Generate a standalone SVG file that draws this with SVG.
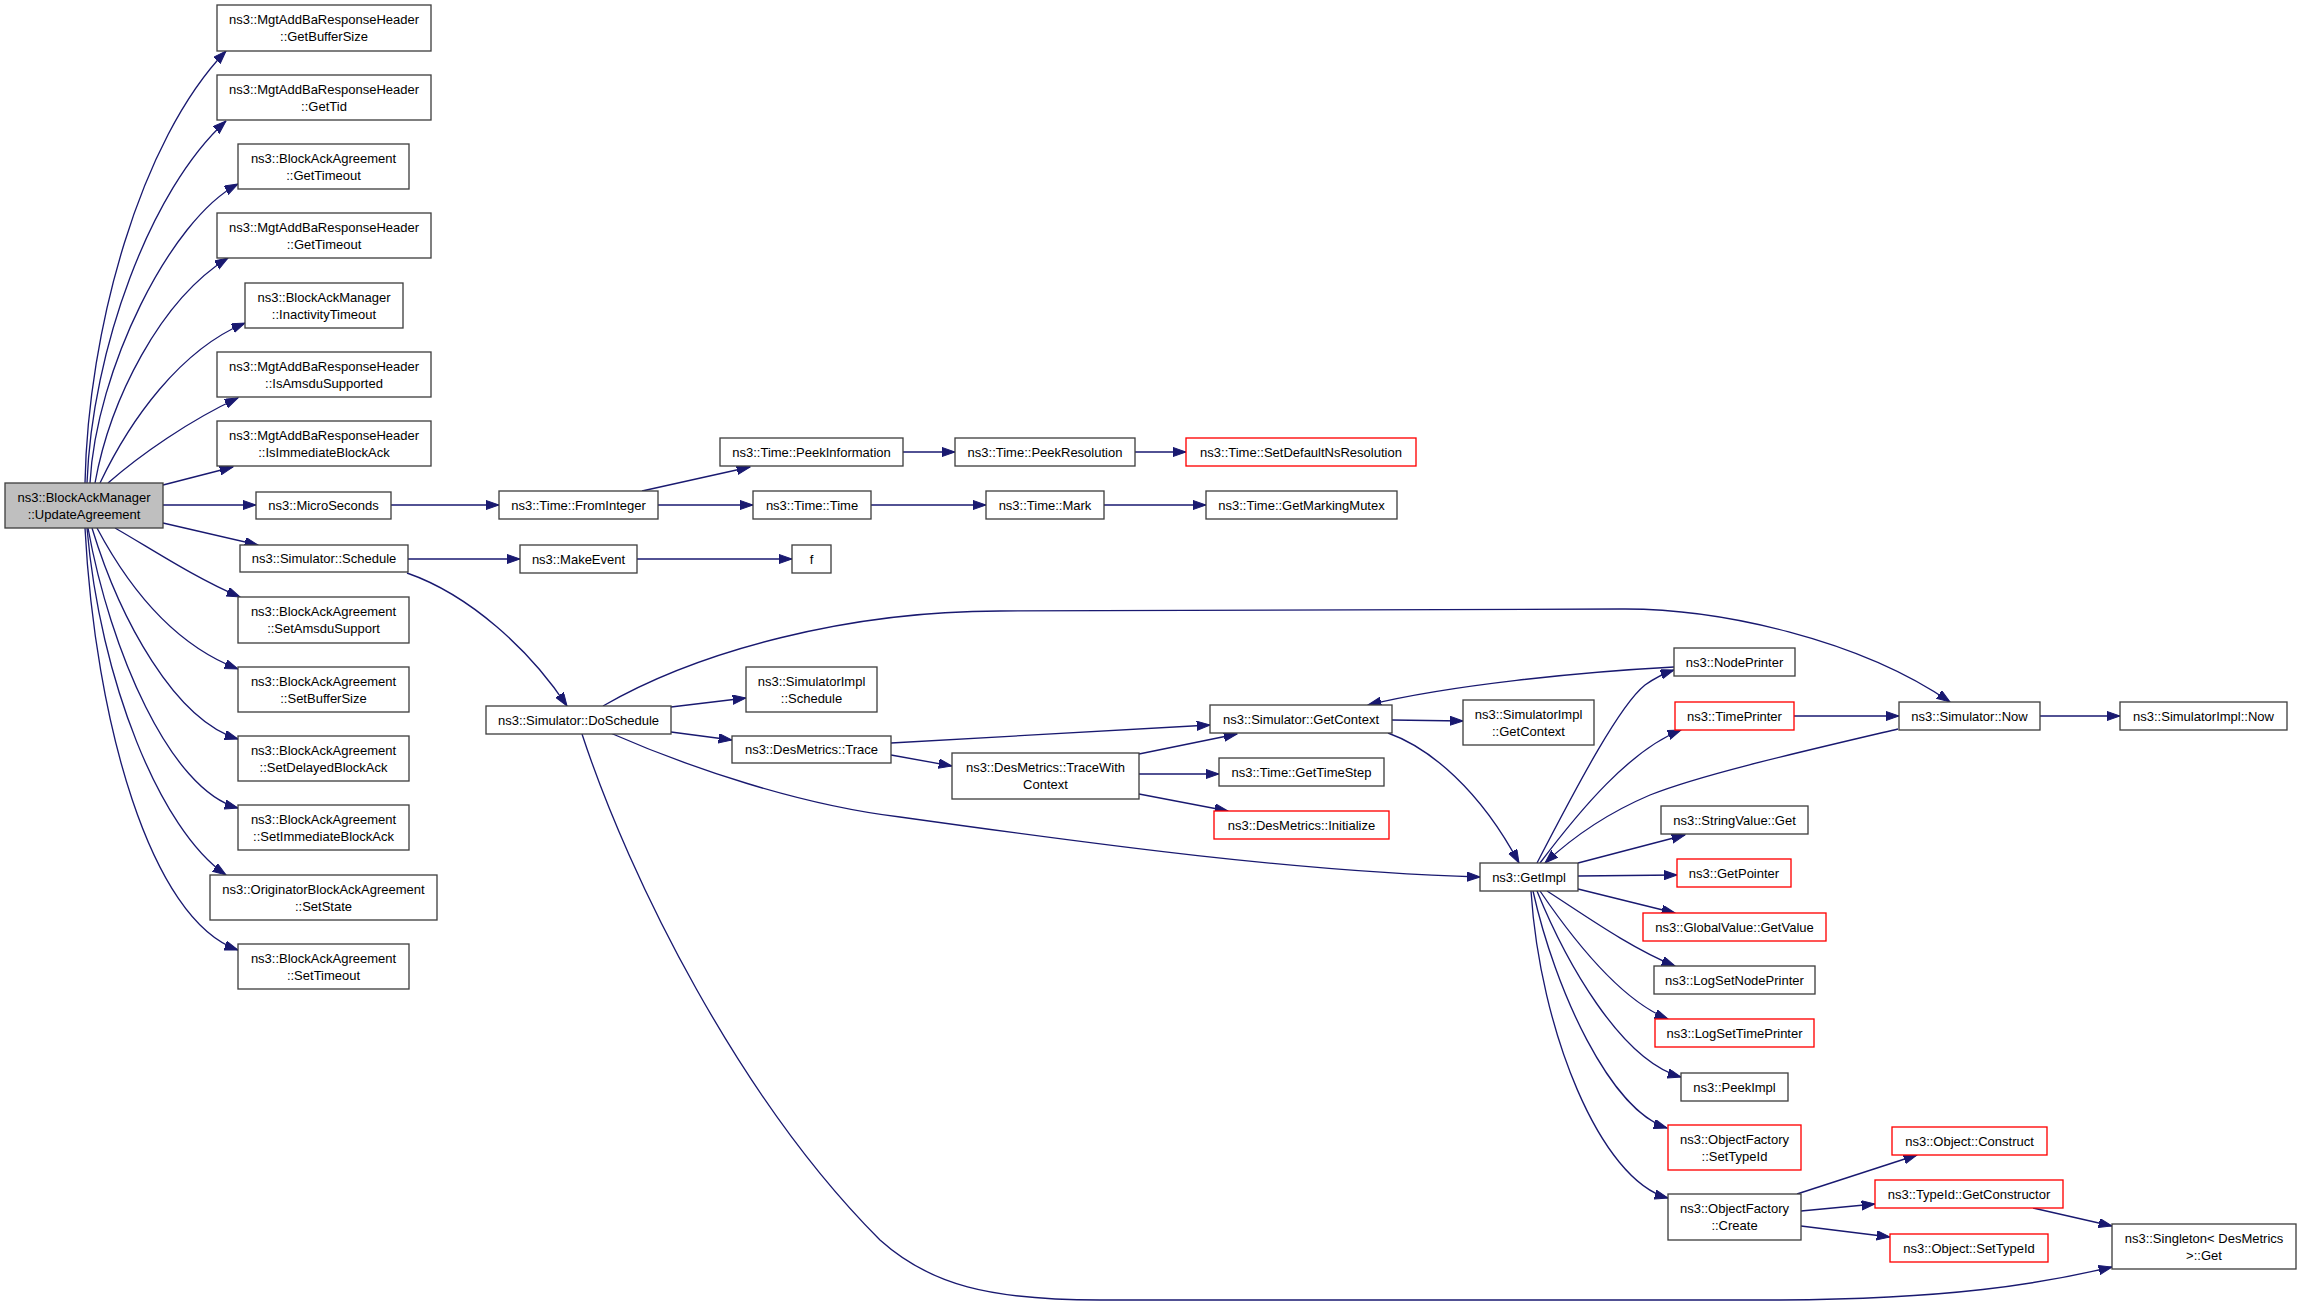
<svg xmlns="http://www.w3.org/2000/svg" width="2301" height="1305" viewBox="0 0 2301 1305">
<style>
.node rect{fill:#ffffff;stroke:#404040;stroke-width:1.33}
.node.red rect{stroke:#ff0000}
.node.main rect{fill:#bfbfbf}
.node text{font-family:"Liberation Sans",Arial,sans-serif;font-size:13px;text-anchor:middle;fill:#000000}
.edges path{fill:none;stroke:#191970;stroke-width:1.33;marker-end:url(#arr)}
</style>
<defs>
<marker id="arr" markerUnits="userSpaceOnUse" markerWidth="14" markerHeight="10" refX="13.3" refY="4.65" orient="auto">
<path d="M0,0 L13.3,4.65 L0,9.3 z" fill="#191970" stroke="#191970" stroke-width="1"/>
</marker>
</defs>
<rect x="0" y="0" width="2301" height="1305" fill="#ffffff"/>
<g class="edges" id="edges">
<path d="M85,483 C88,330 140,140 226,51"/>
<path d="M87,483 C92,350 150,190 226,121"/>
<path d="M90,483 C96,370 170,220 238,184"/>
<path d="M95,483 C110,400 160,300 228,258"/>
<path d="M100,483 C130,420 180,350 245,323"/>
<path d="M108,483 C140,455 190,420 238,398"/>
<path d="M163,485 L233,467"/>
<path d="M163,505 L256,505"/>
<path d="M163,523 L258,545"/>
<path d="M115,528 C150,548 195,578 240,597"/>
<path d="M97,528 C130,590 175,645 238,669"/>
<path d="M92,528 C120,620 175,720 238,739"/>
<path d="M88,528 C110,650 170,790 238,808"/>
<path d="M87,528 C100,680 160,830 226,875"/>
<path d="M85,528 C95,720 150,920 238,950"/>
<path d="M391,505 L499,505"/>
<path d="M408,559 L520,559"/>
<path d="M407,573 C470,595 530,650 567,706"/>
<path d="M642,491 L750,467"/>
<path d="M658,505 L753,505"/>
<path d="M637,559 L792,559"/>
<path d="M671,707 L746,698"/>
<path d="M671,732 L732,740"/>
<path d="M603,706 C700,650 850,611 1000,611 L1620,609 C1720,608 1860,640 1950,702"/>
<path d="M903,452 L955,452"/>
<path d="M871,505 L986,505"/>
<path d="M891,755 L952,766"/>
<path d="M891,743 L1210,725"/>
<path d="M608,732 C690,768 800,805 900,817 C1100,845 1300,872 1480,877"/>
<path d="M582,734 C630,880 740,1100 880,1240 C930,1285 990,1300 1100,1300 L1780,1300 C1950,1299 2040,1284 2112,1267"/>
<path d="M1135,452 L1186,452"/>
<path d="M1104,505 L1206,505"/>
<path d="M1139,754 L1237,734"/>
<path d="M1139,774 L1219,774"/>
<path d="M1139,794 L1228,811"/>
<path d="M1392,720 L1463,721"/>
<path d="M1388,733 C1430,748 1480,790 1519,863"/>
<path d="M1674,667 C1580,672 1450,685 1368,705"/>
<path d="M1537,863 C1580,780 1620,705 1645,685 C1655,678 1665,673 1674,670"/>
<path d="M1540,863 C1580,810 1630,750 1681,730"/>
<path d="M1898,729 C1800,752 1700,775 1650,795 C1610,812 1575,835 1545,863"/>
<path d="M1794,716 L1899,716"/>
<path d="M1578,863 L1685,835"/>
<path d="M1578,876 L1677,875"/>
<path d="M1578,889 L1675,913"/>
<path d="M1547,891 C1580,912 1630,948 1675,966"/>
<path d="M1540,891 C1570,935 1620,1000 1668,1019"/>
<path d="M1537,891 C1565,960 1620,1060 1681,1077"/>
<path d="M1533,891 C1555,990 1610,1110 1667,1128"/>
<path d="M1531,891 C1540,1030 1600,1180 1668,1198"/>
<path d="M1797,1194 L1917,1155"/>
<path d="M1801,1211 L1875,1204"/>
<path d="M1801,1226 L1890,1237"/>
<path d="M2033,1208 L2112,1226"/>
<path d="M2040,716 L2120,716"/>
</g>
<g id="n_main" class="node main"><rect x="5" y="483" width="158" height="45"/><text x="84" y="501.5">ns3::BlockAckManager</text><text x="84" y="518.5">::UpdateAgreement</text></g>
<g id="n_getbuffersize" class="node"><rect x="217" y="5" width="214" height="46"/><text x="324" y="23.5">ns3::MgtAddBaResponseHeader</text><text x="324" y="40.5">::GetBufferSize</text></g>
<g id="n_gettid" class="node"><rect x="217" y="75" width="214" height="45"/><text x="324" y="93.5">ns3::MgtAddBaResponseHeader</text><text x="324" y="110.5">::GetTid</text></g>
<g id="n_baa_gettimeout" class="node"><rect x="238" y="144" width="171" height="45"/><text x="323.5" y="162.5">ns3::BlockAckAgreement</text><text x="323.5" y="179.5">::GetTimeout</text></g>
<g id="n_mabr_gettimeout" class="node"><rect x="217" y="213" width="214" height="45"/><text x="324" y="231.5">ns3::MgtAddBaResponseHeader</text><text x="324" y="248.5">::GetTimeout</text></g>
<g id="n_inactivity" class="node"><rect x="245" y="283" width="158" height="45"/><text x="324" y="301.5">ns3::BlockAckManager</text><text x="324" y="318.5">::InactivityTimeout</text></g>
<g id="n_isamsdu" class="node"><rect x="217" y="352" width="214" height="45"/><text x="324" y="370.5">ns3::MgtAddBaResponseHeader</text><text x="324" y="387.5">::IsAmsduSupported</text></g>
<g id="n_isimmediate" class="node"><rect x="217" y="421" width="214" height="45"/><text x="324" y="439.5">ns3::MgtAddBaResponseHeader</text><text x="324" y="456.5">::IsImmediateBlockAck</text></g>
<g id="n_microseconds" class="node"><rect x="256" y="492" width="135" height="27"/><text x="323.5" y="510">ns3::MicroSeconds</text></g>
<g id="n_schedule" class="node"><rect x="240" y="545" width="168" height="27"/><text x="324" y="563">ns3::Simulator::Schedule</text></g>
<g id="n_setamsdu" class="node"><rect x="238" y="597" width="171" height="46"/><text x="323.5" y="615.5">ns3::BlockAckAgreement</text><text x="323.5" y="632.5">::SetAmsduSupport</text></g>
<g id="n_setbuffersize" class="node"><rect x="238" y="667" width="171" height="45"/><text x="323.5" y="685.5">ns3::BlockAckAgreement</text><text x="323.5" y="702.5">::SetBufferSize</text></g>
<g id="n_setdelayed" class="node"><rect x="238" y="736" width="171" height="45"/><text x="323.5" y="754.5">ns3::BlockAckAgreement</text><text x="323.5" y="771.5">::SetDelayedBlockAck</text></g>
<g id="n_setimmediate" class="node"><rect x="238" y="805" width="171" height="45"/><text x="323.5" y="823.5">ns3::BlockAckAgreement</text><text x="323.5" y="840.5">::SetImmediateBlockAck</text></g>
<g id="n_setstate" class="node"><rect x="210" y="875" width="227" height="45"/><text x="323.5" y="893.5">ns3::OriginatorBlockAckAgreement</text><text x="323.5" y="910.5">::SetState</text></g>
<g id="n_settimeout" class="node"><rect x="238" y="944" width="171" height="45"/><text x="323.5" y="962.5">ns3::BlockAckAgreement</text><text x="323.5" y="979.5">::SetTimeout</text></g>
<g id="n_frominteger" class="node"><rect x="499" y="491" width="159" height="28"/><text x="578.5" y="509.5">ns3::Time::FromInteger</text></g>
<g id="n_makeevent" class="node"><rect x="520" y="545" width="117" height="28"/><text x="578.5" y="563.5">ns3::MakeEvent</text></g>
<g id="n_doschedule" class="node"><rect x="486" y="706" width="185" height="28"/><text x="578.5" y="724.5">ns3::Simulator::DoSchedule</text></g>
<g id="n_peekinformation" class="node"><rect x="720" y="438" width="183" height="28"/><text x="811.5" y="456.5">ns3::Time::PeekInformation</text></g>
<g id="n_timetime" class="node"><rect x="753" y="491" width="118" height="28"/><text x="812" y="509.5">ns3::Time::Time</text></g>
<g id="n_f" class="node"><rect x="792" y="545" width="39" height="28"/><text x="811.5" y="563.5">f</text></g>
<g id="n_simimpl_schedule" class="node"><rect x="746" y="667" width="131" height="45"/><text x="811.5" y="685.5">ns3::SimulatorImpl</text><text x="811.5" y="702.5">::Schedule</text></g>
<g id="n_trace" class="node"><rect x="732" y="736" width="159" height="27"/><text x="811.5" y="754">ns3::DesMetrics::Trace</text></g>
<g id="n_peekresolution" class="node"><rect x="955" y="438" width="180" height="28"/><text x="1045" y="456.5">ns3::Time::PeekResolution</text></g>
<g id="n_mark" class="node"><rect x="986" y="491" width="118" height="28"/><text x="1045" y="509.5">ns3::Time::Mark</text></g>
<g id="n_tracewithcontext" class="node"><rect x="952" y="753" width="187" height="46"/><text x="1045.5" y="771.5">ns3::DesMetrics::TraceWith</text><text x="1045.5" y="788.5">Context</text></g>
<g id="n_setdefaultns" class="node red"><rect x="1186" y="438" width="230" height="28"/><text x="1301" y="456.5">ns3::Time::SetDefaultNsResolution</text></g>
<g id="n_getmarkingmutex" class="node"><rect x="1206" y="491" width="191" height="28"/><text x="1301.5" y="509.5">ns3::Time::GetMarkingMutex</text></g>
<g id="n_getcontext" class="node"><rect x="1210" y="705" width="182" height="28"/><text x="1301" y="723.5">ns3::Simulator::GetContext</text></g>
<g id="n_gettimestep" class="node"><rect x="1219" y="758" width="165" height="28"/><text x="1301.5" y="776.5">ns3::Time::GetTimeStep</text></g>
<g id="n_initialize" class="node red"><rect x="1214" y="811" width="175" height="28"/><text x="1301.5" y="829.5">ns3::DesMetrics::Initialize</text></g>
<g id="n_simimpl_getcontext" class="node"><rect x="1463" y="700" width="131" height="45"/><text x="1528.5" y="718.5">ns3::SimulatorImpl</text><text x="1528.5" y="735.5">::GetContext</text></g>
<g id="n_getimpl" class="node"><rect x="1480" y="863" width="98" height="28"/><text x="1529" y="881.5">ns3::GetImpl</text></g>
<g id="n_nodeprinter" class="node"><rect x="1674" y="648" width="121" height="28"/><text x="1734.5" y="666.5">ns3::NodePrinter</text></g>
<g id="n_timeprinter" class="node red"><rect x="1675" y="702" width="119" height="28"/><text x="1734.5" y="720.5">ns3::TimePrinter</text></g>
<g id="n_stringvalue" class="node"><rect x="1661" y="806" width="147" height="28"/><text x="1734.5" y="824.5">ns3::StringValue::Get</text></g>
<g id="n_getpointer" class="node red"><rect x="1677" y="859" width="114" height="28"/><text x="1734" y="877.5">ns3::GetPointer</text></g>
<g id="n_globalvalue" class="node red"><rect x="1643" y="913" width="183" height="28"/><text x="1734.5" y="931.5">ns3::GlobalValue::GetValue</text></g>
<g id="n_logsetnodeprinter" class="node"><rect x="1654" y="966" width="161" height="28"/><text x="1734.5" y="984.5">ns3::LogSetNodePrinter</text></g>
<g id="n_logsettimeprinter" class="node red"><rect x="1655" y="1019" width="159" height="28"/><text x="1734.5" y="1037.5">ns3::LogSetTimePrinter</text></g>
<g id="n_peekimpl" class="node"><rect x="1681" y="1073" width="107" height="28"/><text x="1734.5" y="1091.5">ns3::PeekImpl</text></g>
<g id="n_of_settypeid" class="node red"><rect x="1668" y="1125" width="133" height="45"/><text x="1734.5" y="1143.5">ns3::ObjectFactory</text><text x="1734.5" y="1160.5">::SetTypeId</text></g>
<g id="n_of_create" class="node"><rect x="1668" y="1194" width="133" height="46"/><text x="1734.5" y="1212.5">ns3::ObjectFactory</text><text x="1734.5" y="1229.5">::Create</text></g>
<g id="n_simnow" class="node"><rect x="1899" y="702" width="141" height="28"/><text x="1969.5" y="720.5">ns3::Simulator::Now</text></g>
<g id="n_construct" class="node red"><rect x="1892" y="1127" width="155" height="28"/><text x="1969.5" y="1145.5">ns3::Object::Construct</text></g>
<g id="n_getconstructor" class="node red"><rect x="1875" y="1180" width="188" height="28"/><text x="1969" y="1198.5">ns3::TypeId::GetConstructor</text></g>
<g id="n_obj_settypeid" class="node red"><rect x="1890" y="1234" width="158" height="28"/><text x="1969" y="1252.5">ns3::Object::SetTypeId</text></g>
<g id="n_simimpl_now" class="node"><rect x="2120" y="702" width="167" height="28"/><text x="2203.5" y="720.5">ns3::SimulatorImpl::Now</text></g>
<g id="n_singleton" class="node"><rect x="2112" y="1224" width="184" height="45"/><text x="2204" y="1242.5">ns3::Singleton&lt; DesMetrics</text><text x="2204" y="1259.5">&gt;::Get</text></g>
</svg>
